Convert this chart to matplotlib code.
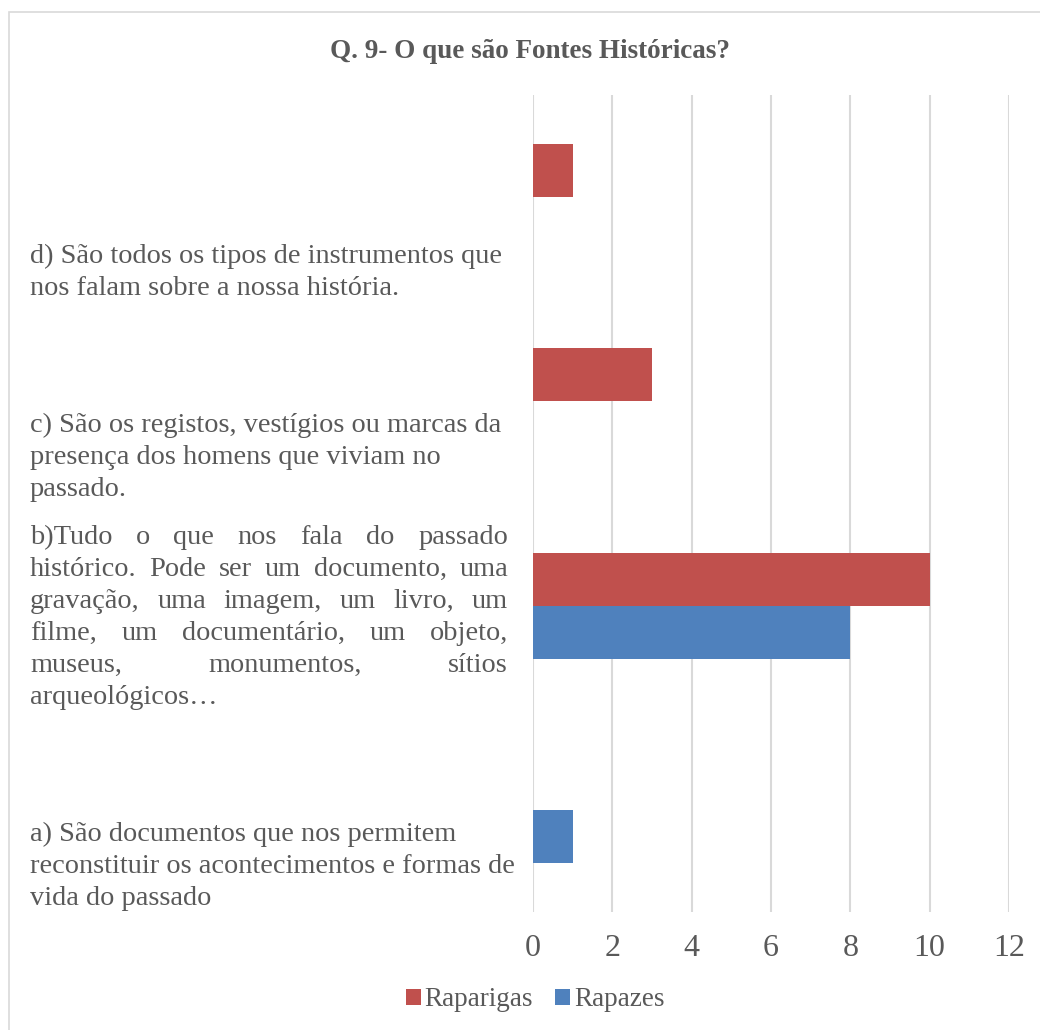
import matplotlib
matplotlib.use("Agg")
import matplotlib.pyplot as plt
from matplotlib.patches import Rectangle
from matplotlib.transforms import IdentityTransform

plt.rcParams['font.family'] = ['Liberation Serif', 'DejaVu Serif']

# ---- data ----
categories = [
    "a) São documentos que nos permitem\nreconstituir os acontecimentos e formas de\nvida do passado",
    "b)Tudo o que nos fala do passado\nhistórico. Pode ser um documento, uma\ngravação, uma imagem, um livro, um\nfilme, um documentário, um objeto,\nmuseus, monumentos, sítios\narqueológicos…",
    "c) São os registos, vestígios ou marcas da\npresença dos homens que viviam no\npassado.",
    "d) São todos os tipos de instrumentos que\nnos falam sobre a nossa história.",
]
justify = [False, True, False, False]
raparigas = [0, 10, 3, 1]
rapazes = [1, 8, 0, 0]
series_names = ["Raparigas", "Rapazes"]
xticks = [0, 2, 4, 6, 8, 10, 12]
title = "Q. 9- O que são Fontes Históricas?"

# ---- layout ----
W, H = 1040, 1030
RED = "#C0504D"
BLUE = "#4F81BD"
TXT = "#595959"
GRID = "#D9D9D9"
label_offsets_px = [22, -71, 21, 56]  # first-line centre below category centre
label_fs = 20.4
line_px = 32
x_left_px, x_right_px = 30, 508

fig = plt.figure(figsize=(W / 100, H / 100), dpi=100)
fig.patch.set_facecolor("white")

# chart border
fig.add_artist(Rectangle((9 / W, -0.05), 1.2, 1 - 12 / H + 0.05, transform=fig.transFigure,
                         fill=False, edgecolor="#D9D9D9", lw=1.2))

ax = fig.add_axes([533 / W, 1 - 912 / H, (1009 - 533) / W, (912 - 95) / H])
ypos = list(range(len(categories)))
h = 0.26
ax.barh([y + h / 2 for y in ypos], raparigas, height=h, color=RED, label=series_names[0], zorder=3)
ax.barh([y - h / 2 for y in ypos], rapazes, height=h, color=BLUE, label=series_names[1], zorder=3)
ax.set_xlim(0, 12)
ax.set_ylim(-0.5, len(categories) - 0.5)
ax.set_xticks(xticks)
ax.set_xticklabels([str(t) for t in xticks])
ax.set_yticks([])
ax.tick_params(axis='x', length=0, pad=16, labelsize=23, labelcolor=TXT)
ax.grid(axis='x', color=GRID, lw=1.5, zorder=0)
for s in ax.spines.values():
    s.set_visible(False)

fig.text(530 / W, 1 - 51 / H, title, ha='center', va='center', fontsize=19.5,
         fontweight='bold', color=TXT)

# category labels
fig.canvas.draw()
renderer = fig.canvas.get_renderer()
for i, lab in enumerate(categories):
    yc_disp = ax.transData.transform((0, ypos[i]))[1]
    first_center = yc_disp - label_offsets_px[i]
    lines = lab.split("\n")
    for j, line in enumerate(lines):
        ycen = first_center - j * line_px
        if justify[i] and j < len(lines) - 1:
            words = line.split(" ")
            arts = [fig.text(0, ycen, w, transform=IdentityTransform(), ha='left',
                             va='center_baseline', fontsize=label_fs, color=TXT) for w in words]
            widths = [a.get_window_extent(renderer).width for a in arts]
            gap = (x_right_px - x_left_px - sum(widths)) / (len(words) - 1)
            x = x_left_px
            for a, wd in zip(arts, widths):
                a.set_x(x)
                x += wd + gap
        else:
            fig.text(x_left_px, ycen, line, transform=IdentityTransform(), ha='left',
                     va='center_baseline', fontsize=label_fs, color=TXT)

leg = fig.legend(loc='center', bbox_to_anchor=(535 / W, 1 - 1000 / H), ncol=2, frameon=False,
                 fontsize=19.5, handlelength=0.55, handleheight=0.55, handletextpad=0.15,
                 columnspacing=0.8, labelcolor=TXT)

fig.savefig("out.png", dpi=100)
